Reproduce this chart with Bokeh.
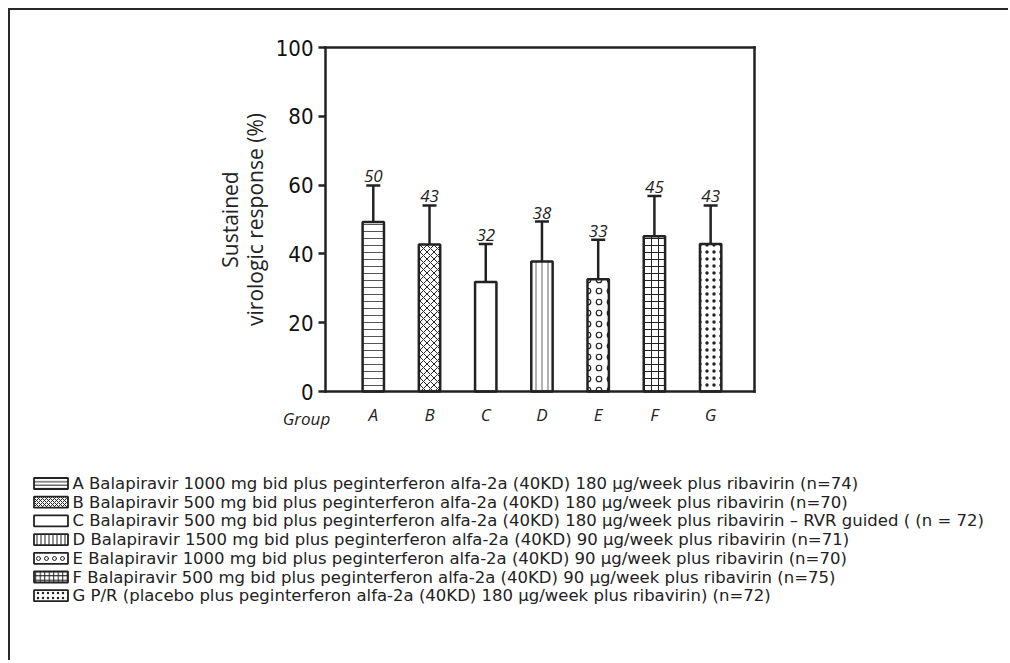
from bokeh.plotting import figure
from bokeh.models import (ColumnDataSource, Range1d, FixedTicker, Whisker, TeeHead,
                          LinearAxis)
from bokeh.core.properties import value
from bokeh.embed import file_html
from bokeh.resources import INLINE

# ---------------- data ----------------
groups = ["A", "B", "C", "D", "E", "F", "G"]
svr = [49.3, 42.7, 31.8, 37.8, 32.6, 45.1, 42.9]          # bar heights (%)
svr_upper = [59.9, 54.1, 42.9, 49.4, 44.1, 56.8, 54.1]    # top of error bars (%)
svr_labels = ["50", "43", "32", "38", "33", "45", "43"]
hatches = ["-", "x", " ", "|", "o", "+", "."]
y_ticks = [0, 20, 40, 60, 80, 100]
legend_texts = [
    "A Balapiravir 1000 mg bid plus peginterferon alfa-2a (40KD) 180 \u00b5g/week plus ribavirin (n=74)",
    "B Balapiravir 500 mg bid plus peginterferon alfa-2a (40KD) 180 \u00b5g/week plus ribavirin (n=70)",
    "C Balapiravir 500 mg bid plus peginterferon alfa-2a (40KD) 180 \u00b5g/week plus ribavirin \u2013 RVR guided (  (n = 72)",
    "D Balapiravir 1500 mg bid plus peginterferon alfa-2a (40KD) 90 \u00b5g/week plus ribavirin (n=71)",
    "E Balapiravir 1000 mg bid plus peginterferon alfa-2a (40KD) 90 \u00b5g/week plus ribavirin (n=70)",
    "F Balapiravir 500 mg bid plus peginterferon alfa-2a (40KD) 90 \u00b5g/week plus ribavirin (n=75)",
    "G P/R (placebo plus peginterferon alfa-2a (40KD) 180 \u00b5g/week plus ribavirin) (n=72)",
]

INK = "#222222"
ITALIC_FONT = "Open Sans"
LABEL_FONT = "Open Sans"
TICK_FONT = "DejaVu Sans Condensed"
LEG_FONT = "DejaVu Sans"

# ---------------- layout (canvas pixels) ----------------
W, H = 998, 650
FL, FR, FT, FB = 315, 744, 37, 381          # chart box inside the canvas
X0, X1 = 0.15, 7.78                          # chart x extent (data)
kx = (FR - FL) / (X1 - X0)
ky = (FB - FT) / 100.0
x_start = X0 - FL / kx
x_end = x_start + W / kx
y_end = 100 + FT / ky
y_start = y_end - H / ky

xs = list(range(1, len(groups) + 1))
src = ColumnDataSource(dict(
    x=xs, top=svr, upper=svr_upper, lab=svr_labels, hatch=hatches,
    hcolor=["#555555", INK, INK, "#666666", INK, INK, INK],
    hscale=[7, 7, 12, 6, 11, 7, 7],
    hweight=[1.0, 1.0, 1.0, 1.0, 1.2, 1.0, 0.7],
))

p = figure(output_backend="svg", toolbar_location=None,
           frame_width=W, frame_height=H, min_border=0,
           x_range=Range1d(x_start, x_end), y_range=Range1d(y_start, y_end),
           x_axis_location=None, y_axis_location=None,
           styles={"border-left": "2px solid #2a2a2a",
                   "border-top": "2px solid #2a2a2a",
                   "margin-left": "8px", "margin-top": "8px"})
p.extra_x_ranges = {"px": Range1d(0, W)}
p.extra_y_ranges = {"px": Range1d(H, 0)}
p.background_fill_color = "white"
p.border_fill_color = "white"
p.outline_line_color = None
p.grid.visible = False

# ---- axes (fixed at the chart box) ----
ya = LinearAxis(fixed_location=X0, bounds=(0, 100))
ya.ticker = FixedTicker(ticks=y_ticks)
ya.minor_tick_line_color = None
ya.major_tick_in = 0
ya.major_tick_out = 7
ya.major_tick_line_width = 2.5
ya.major_tick_line_color = INK
ya.axis_line_width = 2.5
ya.axis_line_color = INK
ya.axis_line_cap = "square"
ya.major_label_text_font = TICK_FONT
ya.major_label_text_font_size = "22px"
ya.major_label_text_color = "#111111"
ya.major_label_standoff = 5
ya.axis_label = "Sustained\nvirologic response (%)"
ya.axis_label_text_font = LABEL_FONT
ya.axis_label_text_font_style = "normal"
ya.axis_label_text_font_size = "21px"
ya.axis_label_text_line_height = 0.9
ya.axis_label_text_color = INK
ya.axis_label_standoff = 4
p.add_layout(ya, "left")

xa = LinearAxis(fixed_location=0, bounds=(X0, X1))
xa.ticker = FixedTicker(ticks=xs)
xa.major_label_overrides = {x: g for x, g in zip(xs, groups)}
xa.minor_tick_line_color = None
xa.major_tick_in = 0
xa.major_tick_out = 0
xa.axis_line_width = 2.5
xa.axis_line_color = INK
xa.axis_line_cap = "square"
xa.major_label_text_font = ITALIC_FONT
xa.major_label_text_font_style = "italic"
xa.major_label_text_font_size = "17px"
xa.major_label_text_color = INK
xa.major_label_standoff = 11
p.add_layout(xa, "below")

for loc, side, bnds in [(X1, "right", (0, 100)), (100, "above", (X0, X1))]:
    ax = LinearAxis(fixed_location=loc, bounds=bnds, ticker=FixedTicker(ticks=[]),
                    major_label_text_font_size="0px", minor_tick_line_color=None,
                    major_tick_line_color=None, axis_line_width=2.5,
                    axis_line_color=INK, axis_line_cap="square")
    p.add_layout(ax, side)

# ---- bars, error bars, value labels ----
p.vbar(x="x", top="top", width=0.38, source=src, fill_color="white",
       line_color=INK, line_width=2.5,
       hatch_pattern="hatch", hatch_color="hcolor", hatch_scale="hscale",
       hatch_weight="hweight")

wh = Whisker(base="x", lower="top", upper="upper", source=src,
             dimension="height", line_color=INK, line_width=2.5,
             lower_head=None,
             upper_head=TeeHead(size=14, line_color=INK, line_width=2.5))
p.add_layout(wh)

p.text(x="x", y="upper", text="lab", source=src, y_offset=-9,
       text_align="center", text_baseline="alphabetic",
       text_font=value(ITALIC_FONT), text_font_style="italic",
       text_font_size="17px", text_color=INK)

# "Group" caption at the start of the category row
p.text(x=[FL - 19], y=[FB + 27], text=["Group"], x_range_name="px", y_range_name="px",
       text_align="center", text_baseline="alphabetic",
       text_font=value(ITALIC_FONT), text_font_style="italic",
       text_font_size="17px", text_color=INK)

# ---- legend ----
row0, row_step = 473, 18.7
ly = [row0 + i * row_step for i in range(len(groups))]
lsrc = ColumnDataSource(dict(
    y=ly, text=legend_texts, hatch=hatches,
    hscale=[3.5, 4, 12, 4, 8, 4.5, 5],
    hweight=[1.0, 1.0, 1.0, 1.0, 1.0, 1.0, 0.8],
))
p.rect(x=40.5, y="y", width=34, height=11, source=lsrc, fill_color="white",
       line_color=INK, line_width=1.8, hatch_pattern="hatch",
       hatch_color=INK, hatch_scale="hscale", hatch_weight="hweight",
       x_range_name="px", y_range_name="px")
p.text(x=62, y="y", text="text", source=lsrc, text_baseline="middle",
       text_align="left", text_font=value(LEG_FONT),
       text_font_size="16.5px", text_color=INK,
       x_range_name="px", y_range_name="px")

open("out.html", "w").write(file_html(p, INLINE))
